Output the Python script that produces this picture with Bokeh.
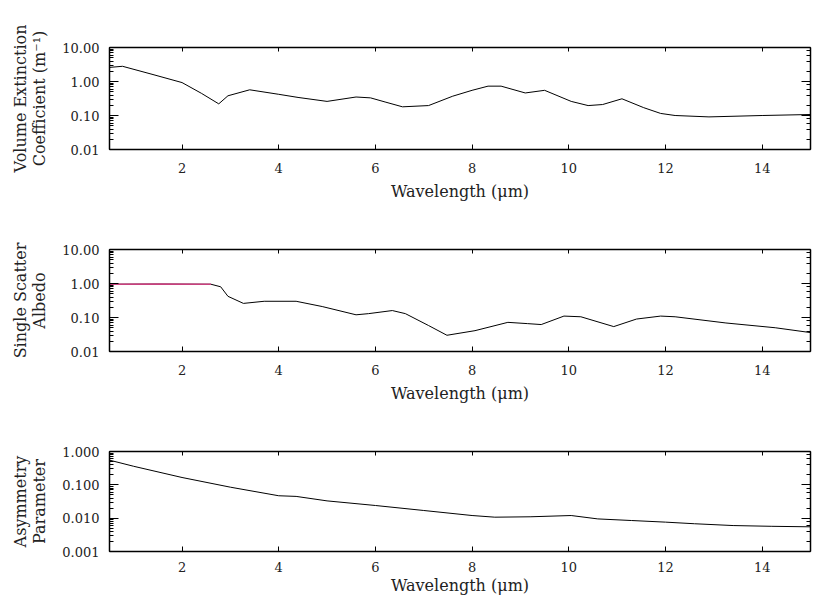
from bokeh.plotting import figure
from bokeh.layouts import column
from bokeh.models import LinearAxis, LogAxis, FixedTicker, PrintfTickFormatter, Range1d
from bokeh.embed import file_html
from bokeh.resources import INLINE

# ---- data ----
wl_ext = [0.5, 0.77, 1.4, 2.0, 2.4, 2.76, 2.95, 3.4, 4.0, 4.4, 5.0, 5.6, 5.9, 6.2, 6.56, 7.1, 7.6,
          8.0, 8.33, 8.6, 9.1, 9.5, 10.05, 10.4, 10.7, 11.1, 11.55, 11.9, 12.2, 12.9, 14.0, 15.0]
ext = [2.6, 2.8, 1.6, 0.93, 0.45, 0.22, 0.38, 0.57, 0.42, 0.34, 0.26, 0.35, 0.33, 0.25, 0.18, 0.196,
       0.37, 0.55, 0.73, 0.73, 0.46, 0.55, 0.26, 0.196, 0.21, 0.31, 0.17, 0.115, 0.1, 0.091, 0.1, 0.107]

wl_alb = [0.5, 1.5, 2.6, 2.8, 2.95, 3.27, 3.7, 4.36, 4.9, 5.6, 5.86, 6.35, 6.62, 7.1, 7.48, 8.06,
          8.74, 9.15, 9.43, 9.9, 10.25, 10.93, 11.4, 11.9, 12.2, 13.25, 14.27, 15.0]
alb = [0.95, 0.96, 0.95, 0.8, 0.42, 0.26, 0.30, 0.30, 0.21, 0.12, 0.13, 0.16, 0.13, 0.058, 0.03,
       0.041, 0.072, 0.066, 0.062, 0.11, 0.105, 0.054, 0.09, 0.11, 0.105, 0.069, 0.05, 0.036]
alb_highlight_end = 2.6  # wavelength up to which the albedo curve is drawn in magenta

wl_g = [0.5, 1.0, 2.0, 3.0, 4.0, 4.36, 5.0, 6.0, 7.0, 8.0, 8.47, 9.2, 10.05, 10.6, 11.3, 12.0,
        12.6, 13.4, 14.2, 15.0]
g = [0.55, 0.36, 0.166, 0.085, 0.047, 0.045, 0.033, 0.024, 0.017, 0.012, 0.0107, 0.011, 0.012,
     0.0095, 0.0085, 0.0076, 0.0068, 0.006, 0.0057, 0.0055]

x_ticks = [2, 4, 6, 8, 10, 12, 14]
x_label = "Wavelength (\u03bcm)"

FONT = "DejaVu Serif"
TXT = "#222222"


def make_panel(xs, ys, ylabel, yrange, fmt, height, top, bottom, xl_standoff=6, lbl_standoff=13):
    p = figure(width=813, height=height, y_axis_type="log",
               x_range=Range1d(0.5, 15.0), y_range=Range1d(*yrange),
               output_backend="svg", toolbar_location=None,
               min_border_left=109, min_border_right=3,
               min_border_top=top, min_border_bottom=bottom)
    p.outline_line_color = None
    p.grid.visible = False
    p.background_fill_color = "white"
    p.border_fill_color = "white"

    # bottom x axis
    xa = p.xaxis[0]
    xa.ticker = FixedTicker(ticks=x_ticks)
    xa.axis_label = x_label
    xa.major_tick_in = 5
    xa.major_tick_out = 0
    xa.minor_tick_in = 0
    xa.minor_tick_out = 0
    xa.major_label_standoff = lbl_standoff
    xa.axis_label_standoff = xl_standoff
    xa.major_label_text_font = FONT
    xa.major_label_text_font_size = "13px"
    xa.axis_label_text_font = FONT
    xa.axis_label_text_font_size = "16px"
    xa.axis_label_text_font_style = "normal"
    xa.axis_label_text_color = TXT
    xa.major_label_text_color = TXT
    xa.axis_line_width = 1.5

    # left y axis
    ya = p.yaxis[0]
    ya.axis_label = ylabel
    ya.formatter = PrintfTickFormatter(format=fmt)
    ya.major_tick_in = 9
    ya.major_tick_out = 0
    ya.minor_tick_in = 4
    ya.minor_tick_out = 0
    ya.major_label_standoff = 10
    ya.axis_label_standoff = 10
    ya.major_label_text_font = FONT
    ya.major_label_text_font_size = "13px"
    ya.axis_label_text_font = FONT
    ya.axis_label_text_font_size = "16px"
    ya.axis_label_text_line_height = 1.0
    ya.axis_label_text_font_style = "normal"
    ya.axis_label_text_color = TXT
    ya.major_label_text_color = TXT
    ya.axis_line_width = 1.5

    # mirrored top and right axes (ticks only)
    top_ax = LinearAxis(ticker=FixedTicker(ticks=x_ticks), major_tick_in=4, major_tick_out=0,
                        minor_tick_in=0, minor_tick_out=0, major_label_text_font_size="1px",
                        major_label_text_color=None,
                        major_label_standoff=0, axis_line_width=1.5)
    p.add_layout(top_ax, "above")
    right_ax = LogAxis(major_tick_in=9, major_tick_out=0, minor_tick_in=4, minor_tick_out=0,
                       major_label_text_font_size="1px", major_label_text_color=None,
                       major_label_standoff=0, axis_line_width=1.5)
    p.add_layout(right_ax, "right")

    p.line(xs, ys, line_color="black", line_width=1)
    return p


p1 = make_panel(wl_ext, ext, "Volume Extinction\nCoefficient (m\u207b\u00b9)", (0.01, 10.0), "%.2f",
                207, 47, 58)
p2 = make_panel(wl_alb, alb, "Single Scatter\nAlbedo", (0.01, 10.0), "%.2f", 200, 42, 56)
hx = [x for x in wl_alb if x <= alb_highlight_end]
hy = alb[:len(hx)]
p2.line(hx, hy, line_color="#c8407e", line_width=1.5)
p3 = make_panel(wl_g, g, "Asymmetry\nParameter", (0.001, 1.0), "%.3f", 190, 44, 45,
                xl_standoff=1, lbl_standoff=10)

layout = column(p1, p2, p3, spacing=0)

open("out.html", "w").write(file_html(layout, INLINE))
